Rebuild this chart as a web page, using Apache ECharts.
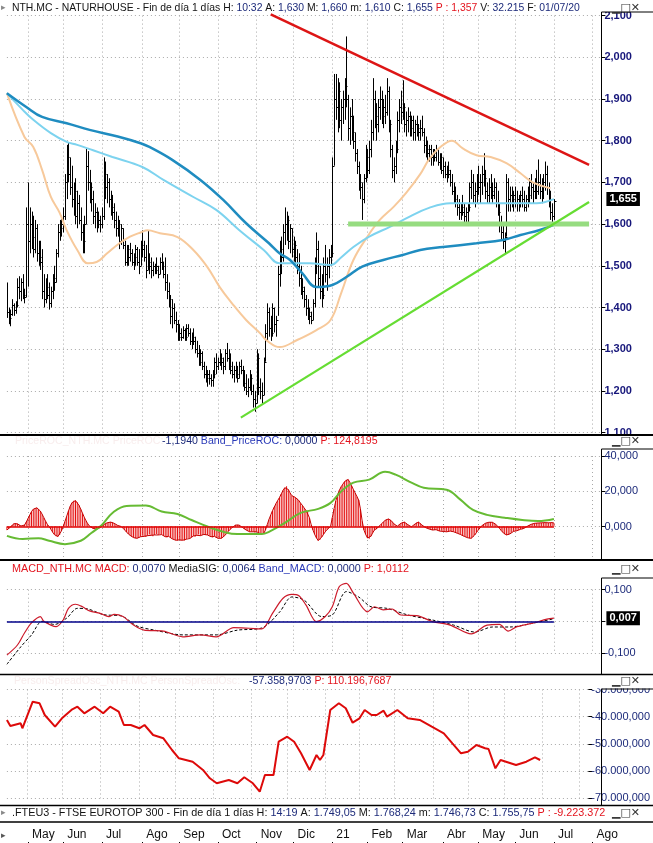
<!DOCTYPE html>
<html><head><meta charset="utf-8">
<script src="https://cdn.jsdelivr.net/npm/echarts/dist/echarts.min.js"></script>
<style>html,body{margin:0;padding:0;background:#fff}#c{width:653px;height:843px}</style>
</head><body><div id="c"></div>
<script>
// ---------- categories ----------
const firstDay = '2020-04-15';
const holidays = ['2020-05-01','2020-12-25','2021-01-01','2021-04-02','2021-04-05'];
const totalSlots = 339;
const monthNames = ['Ene','Feb','Mar','Abr','May','Jun','Jul','Ago','Sep','Oct','Nov','Dic'];

// ---------- price bars ----------
const highs = [1.460,1.400,1.395,1.420,1.410,1.415,1.470,1.475,1.470,1.480,1.445,1.640,1.700,1.640,1.630,1.620,1.610,1.600,1.560,1.560,
1.540,1.480,1.470,1.480,1.460,1.450,1.480,1.500,1.540,1.600,1.610,1.620,1.640,1.720,1.790,1.795,1.760,1.740,1.700,1.710,
1.680,1.670,1.640,1.600,1.620,1.780,1.775,1.730,1.700,1.680,1.650,1.640,1.630,1.620,1.640,1.760,1.750,1.720,1.710,1.680,
1.670,1.650,1.630,1.620,1.610,1.600,1.590,1.560,1.550,1.550,1.555,1.540,1.530,1.550,1.545,1.540,1.560,1.585,1.560,1.550,
1.585,1.530,1.520,1.510,1.505,1.520,1.500,1.520,1.530,1.510,1.520,1.480,1.460,1.430,1.420,1.410,1.390,1.370,1.360,1.350,
1.355,1.350,1.360,1.360,1.350,1.340,1.350,1.330,1.320,1.310,1.300,1.295,1.270,1.260,1.250,1.250,1.240,1.250,1.280,1.290,
1.280,1.300,1.290,1.280,1.300,1.315,1.300,1.290,1.270,1.260,1.270,1.260,1.270,1.275,1.260,1.250,1.240,1.230,1.250,1.240,
1.215,1.200,1.300,1.290,1.230,1.220,1.280,1.360,1.410,1.400,1.380,1.410,1.400,1.380,1.500,1.560,1.570,1.600,1.640,1.630,
1.620,1.600,1.590,1.570,1.560,1.540,1.530,1.500,1.470,1.450,1.430,1.420,1.400,1.390,1.420,1.520,1.580,1.560,1.500,1.480,
1.520,1.550,1.520,1.540,1.550,1.760,1.960,1.960,1.950,1.940,1.900,1.920,1.950,2.050,1.910,1.880,1.900,1.860,1.820,1.780,
1.750,1.720,1.700,1.720,1.790,1.780,1.800,1.850,1.950,1.920,1.890,1.900,1.930,1.920,1.900,1.910,1.950,1.930,1.850,1.790,
1.760,1.800,1.870,1.900,1.920,1.945,1.890,1.870,1.880,1.870,1.860,1.860,1.850,1.860,1.840,1.850,1.860,1.830,1.810,1.800,
1.790,1.790,1.780,1.780,1.790,1.780,1.770,1.770,1.760,1.750,1.740,1.750,1.730,1.720,1.700,1.690,1.670,1.660,1.650,1.670,
1.650,1.640,1.650,1.700,1.730,1.720,1.700,1.720,1.740,1.720,1.740,1.770,1.730,1.700,1.710,1.720,1.700,1.710,1.700,1.680,
1.650,1.620,1.600,1.580,1.720,1.710,1.690,1.690,1.680,1.690,1.680,1.670,1.680,1.690,1.680,1.670,1.690,1.710,1.720,1.700,
1.710,1.730,1.755,1.720,1.710,1.720,1.750,1.740,1.700,1.680,1.650,1.660];
const lows = [1.375,1.360,1.355,1.380,1.380,1.385,1.400,1.420,1.415,1.420,1.410,1.425,1.450,1.530,1.540,1.520,1.530,1.510,1.500,1.490,
1.420,1.400,1.410,1.420,1.395,1.400,1.420,1.440,1.460,1.520,1.560,1.570,1.580,1.610,1.660,1.700,1.670,1.640,1.620,1.600,
1.590,1.600,1.560,1.530,1.530,1.600,1.680,1.650,1.630,1.600,1.590,1.580,1.590,1.580,1.590,1.610,1.660,1.650,1.640,1.620,
1.610,1.590,1.570,1.570,1.540,1.550,1.540,1.500,1.500,1.500,1.510,1.500,1.490,1.500,1.500,1.480,1.500,1.520,1.510,1.470,
1.490,1.480,1.470,1.475,1.480,1.480,1.470,1.480,1.490,1.470,1.440,1.420,1.400,1.360,1.350,1.360,1.340,1.320,1.320,1.320,
1.325,1.320,1.320,1.330,1.310,1.300,1.310,1.290,1.280,1.260,1.260,1.250,1.230,1.220,1.210,1.215,1.210,1.210,1.230,1.240,
1.250,1.260,1.250,1.240,1.250,1.270,1.250,1.240,1.230,1.220,1.230,1.220,1.230,1.240,1.210,1.200,1.190,1.185,1.200,1.190,
1.160,1.150,1.170,1.190,1.180,1.170,1.190,1.270,1.320,1.330,1.320,1.330,1.340,1.330,1.380,1.450,1.480,1.510,1.550,1.560,
1.540,1.530,1.520,1.510,1.500,1.480,1.450,1.430,1.420,1.400,1.380,1.370,1.360,1.360,1.370,1.400,1.480,1.450,1.420,1.400,
1.420,1.460,1.440,1.470,1.500,1.520,1.740,1.850,1.820,1.830,1.800,1.840,1.850,1.880,1.800,1.790,1.800,1.780,1.750,1.720,
1.680,1.660,1.610,1.650,1.700,1.710,1.720,1.760,1.800,1.830,1.800,1.820,1.850,1.840,1.830,1.840,1.860,1.820,1.760,1.710,
1.700,1.720,1.770,1.820,1.840,1.850,1.820,1.810,1.820,1.810,1.810,1.800,1.800,1.810,1.800,1.800,1.810,1.770,1.760,1.750,
1.750,1.740,1.740,1.750,1.750,1.740,1.730,1.720,1.710,1.710,1.700,1.710,1.690,1.670,1.650,1.640,1.620,1.610,1.610,1.620,
1.600,1.600,1.600,1.630,1.660,1.650,1.640,1.650,1.670,1.650,1.670,1.690,1.660,1.650,1.650,1.660,1.650,1.660,1.640,1.620,
1.580,1.560,1.540,1.530,1.570,1.630,1.630,1.640,1.630,1.640,1.630,1.630,1.640,1.640,1.630,1.630,1.640,1.650,1.660,1.650,
1.660,1.660,1.670,1.660,1.650,1.660,1.680,1.670,1.640,1.610,1.600,1.610];
const closes = [1.390,1.375,1.385,1.405,1.395,1.405,1.450,1.440,1.460,1.430,1.425,1.600,1.560,1.600,1.570,1.540,1.590,1.530,1.520,1.510,
1.440,1.420,1.450,1.430,1.410,1.440,1.470,1.460,1.530,1.580,1.590,1.600,1.620,1.700,1.760,1.720,1.690,1.660,1.680,1.620,
1.650,1.610,1.580,1.560,1.600,1.740,1.700,1.690,1.660,1.620,1.630,1.600,1.610,1.600,1.620,1.720,1.690,1.700,1.660,1.640,
1.630,1.610,1.590,1.600,1.560,1.590,1.550,1.510,1.540,1.520,1.530,1.510,1.520,1.540,1.510,1.500,1.550,1.540,1.520,1.490,
1.510,1.500,1.490,1.500,1.490,1.500,1.480,1.510,1.500,1.480,1.460,1.440,1.420,1.380,1.400,1.370,1.360,1.330,1.340,1.330,
1.345,1.330,1.350,1.340,1.320,1.330,1.320,1.300,1.290,1.270,1.290,1.260,1.240,1.230,1.240,1.230,1.225,1.240,1.270,1.260,
1.270,1.280,1.270,1.260,1.290,1.280,1.260,1.250,1.240,1.250,1.240,1.230,1.260,1.250,1.220,1.210,1.200,1.210,1.230,1.200,
1.180,1.170,1.280,1.210,1.200,1.190,1.270,1.340,1.390,1.350,1.340,1.400,1.360,1.370,1.480,1.540,1.520,1.580,1.600,1.610,
1.560,1.590,1.540,1.550,1.520,1.500,1.470,1.450,1.440,1.420,1.400,1.390,1.380,1.370,1.410,1.500,1.540,1.470,1.440,1.430,
1.500,1.480,1.500,1.520,1.530,1.740,1.900,1.880,1.920,1.850,1.880,1.900,1.930,1.900,1.830,1.860,1.820,1.800,1.770,1.740,
1.700,1.690,1.660,1.710,1.760,1.730,1.780,1.820,1.900,1.860,1.840,1.880,1.900,1.860,1.880,1.870,1.920,1.840,1.780,1.730,
1.740,1.780,1.850,1.880,1.870,1.880,1.840,1.850,1.860,1.830,1.850,1.820,1.840,1.830,1.820,1.830,1.820,1.790,1.780,1.770,
1.780,1.760,1.770,1.760,1.780,1.750,1.760,1.730,1.740,1.720,1.730,1.720,1.700,1.680,1.660,1.650,1.640,1.630,1.640,1.630,
1.620,1.630,1.640,1.690,1.700,1.670,1.680,1.700,1.690,1.700,1.720,1.710,1.680,1.670,1.690,1.680,1.670,1.690,1.650,1.630,
1.600,1.580,1.560,1.570,1.700,1.660,1.670,1.660,1.670,1.650,1.660,1.650,1.670,1.660,1.640,1.660,1.670,1.700,1.690,1.680,
1.700,1.680,1.700,1.680,1.690,1.700,1.720,1.690,1.660,1.630,1.620,1.655];

// ---------- moving averages (bar index, value) ----------
const maShort = [[0,1.914],[10,1.809],[15,1.785],[20,1.73],[25,1.665],[30,1.627],[34,1.585],[40,1.538],[46,1.506],[51,1.509],[57,1.53],[64,1.554],[70,1.57],[76,1.58],[80,1.585],[87,1.578],[97,1.569],[106,1.538],[114,1.497],[121,1.449],[128,1.41],[136,1.37],[144,1.338],[148,1.32],[155,1.305],[165,1.322],[176,1.346],[184,1.37],[190,1.434],[197,1.514],[205,1.57],[212,1.61],[220,1.642],[227,1.675],[235,1.72],[240,1.755],[246,1.783],[253,1.80],[259,1.782],[267,1.765],[275,1.761],[284,1.746],[292,1.722],[299,1.70],[309,1.686]];
const maMid = [[0,1.914],[9,1.874],[15,1.85],[25,1.818],[34,1.797],[40,1.79],[49,1.777],[60,1.761],[77,1.737],[89,1.706],[106,1.665],[119,1.634],[132,1.586],[146,1.538],[155,1.506],[161,1.506],[172,1.506],[184,1.502],[190,1.52],[197,1.545],[206,1.57],[218,1.594],[229,1.618],[240,1.639],[252,1.65],[267,1.65],[286,1.65],[301,1.65],[311,1.66]];
const maLong = [[0,1.914],[11,1.881],[20,1.857],[34,1.842],[47,1.826],[63,1.81],[76,1.794],[81,1.785],[94,1.754],[110,1.706],[123,1.658],[136,1.602],[149,1.554],[155,1.53],[161,1.514],[168,1.482],[176,1.449],[185,1.454],[193,1.473],[202,1.498],[214,1.514],[225,1.526],[235,1.538],[248,1.545],[267,1.554],[282,1.562],[292,1.574],[303,1.586],[311,1.598]];
const resistanceLine = [[150,2.103],[331,1.742]];
const supportLine = [[133,1.136],[331,1.653]];
const supportLevel = [[194,1.60],[331,1.60]];
const lastClose = 1.655;

// ---------- PriceROC panel ----------
const rocHist = [-2.0,-1.2,-0.3,0.8,1.6,2.0,1.5,0.8,0.3,0.2,0.8,2.5,4.5,6.5,8.5,9.8,10.5,10.6,10.0,8.8,
7.0,5.0,3.0,1.2,0.0,-1.5,-3.2,-4.6,-5.5,-5.7,-4.8,-2.5,0.0,2.8,5.8,8.8,11.5,13.5,14.6,14.7,
13.8,12.0,9.8,7.5,5.2,3.2,1.5,0.2,-0.6,-1.1,-1.4,-1.5,-1.2,-0.6,0.2,1.0,1.6,2.1,2.4,2.5,
2.3,1.8,1.2,0.6,0.2,0.0,-0.8,-2.0,-3.2,-4.2,-5.0,-5.8,-6.3,-6.6,-6.7,-6.5,-5.8,-5.2,-5.6,-6.0,
-5.2,-4.6,-5.0,-5.5,-4.8,-4.3,-4.8,-4.3,-4.6,-5.2,-5.8,-6.2,-5.6,-6.4,-7.0,-7.4,-7.8,-8.0,-7.6,-8.0,
-7.8,-8.0,-7.2,-6.5,-6.8,-6.0,-5.4,-5.8,-5.0,-4.6,-5.2,-4.8,-4.5,-4.8,-4.8,-5.3,-5.8,-6.2,-5.6,-6.4,
-6.7,-6.5,-6.7,-6.0,-5.0,-3.8,-2.6,-1.5,-0.6,0.2,0.8,1.0,0.8,0.2,-0.6,-1.4,-2.0,-2.6,-3.0,-2.8,
-3.0,-3.4,-3.0,-3.6,-4.0,-3.8,-4.0,-2.0,1.0,4.0,6.5,9.0,11.0,13.0,14.8,16.5,18.5,20.5,22.0,22.9,
21.0,19.0,17.5,17.0,16.5,15.8,14.7,13.2,12.0,10.5,9.2,8.6,5.0,1.0,-2.0,-4.5,-6.5,-8.0,-7.5,-6.0,
-4.5,-3.0,-1.8,-0.8,0.0,5.0,10.0,14.5,18.0,20.5,22.5,24.0,25.5,26.5,26.7,25.0,23.0,21.0,19.0,17.0,
15.0,10.0,3.0,-2.0,-4.5,-6.5,-7.0,-5.5,-3.5,-2.0,-1.5,-0.5,0.5,1.5,2.5,3.5,4.1,4.3,3.8,2.8,
1.5,0.6,0.2,0.8,1.8,2.4,2.5,2.0,1.0,0.3,-0.2,0.4,1.4,2.2,2.5,1.8,0.8,0.0,-0.6,-1.0,
-1.4,-1.8,-2.0,-2.0,-1.8,-2.2,-2.6,-2.4,-2.8,-2.6,-3.0,-2.8,-2.6,-3.0,-3.0,-3.4,-3.8,-4.2,-4.6,-5.2,
-5.6,-6.0,-6.4,-6.7,-6.7,-6.0,-4.8,-3.4,-2.0,-0.8,0.4,1.2,1.8,2.2,2.4,2.5,2.4,2.0,1.2,0.2,
-1.0,-2.2,-3.4,-4.4,-4.8,-4.8,-4.2,-3.4,-2.8,-2.6,-2.4,-2.0,-1.6,-1.5,-1.0,-0.4,0.2,0.8,1.2,1.5,
1.8,2.0,2.0,2.0,2.1,2.0,2.2,2.0,2.1,2.0,2.2,2.0];
const rocLine = [[0,-5.3],[9,-7.1],[18,-6.6],[24,-8.1],[33,-10],[42,-8.1],[48,-3.7],[54,0.9],[60,7.7],[68,11.7],[79,11.9],[88,8.5],[97,7.1],[105,3.7],[114,0],[123,-3],[131,-4.3],[145,-4.3],[149,-3],[158,2],[167,7.7],[177,10],[184,13.4],[190,19.9],[197,24.9],[206,26.6],[215,31],[221,29.4],[230,24.9],[237,22],[250,20.9],[258,15.1],[265,9.4],[273,6.6],[283,5],[293,3.7],[302,3.1],[311,4.3]];

// ---------- MACD panel ----------
const macdLine = [[0,-0.107],[6,-0.075],[10,-0.037],[14,-0.005],[19,0.015],[21,0],[25,-0.012],[28,-0.017],[32,0.004],[35,0.041],[39,0.054],[43,0.046],[47,0.033],[53,0.025],[58,0.015],[61,0.022],[66,0.015],[72,-0.012],[78,-0.028],[89,-0.031],[100,-0.049],[110,-0.043],[119,-0.049],[129,-0.02],[138,-0.022],[145,-0.024],[151,0.025],[157,0.073],[162,0.085],[166,0.081],[170,0.052],[176,-0.001],[181,0.015],[185,0.046],[189,0.11],[193,0.12],[197,0.089],[205,0.03],[209,0.046],[214,0.036],[219,0.039],[224,0.02],[233,0.018],[242,-0.001],[252,-0.012],[264,-0.04],[273,-0.012],[280,-0.01],[285,-0.031],[290,-0.017],[299,-0.006],[307,0.007],[311,0.01]];
const signalLine = [[0,-0.136],[8,-0.08],[14,-0.043],[20,0],[27,-0.01],[34,0.01],[40,0.041],[46,0.039],[55,0.021],[65,0.017],[74,-0.015],[84,-0.028],[100,-0.043],[119,-0.043],[131,-0.028],[145,-0.021],[155,0.029],[162,0.077],[169,0.067],[179,0.015],[185,0.02],[193,0.094],[200,0.077],[207,0.046],[216,0.041],[228,0.02],[242,0.004],[254,-0.012],[266,-0.034],[276,-0.018],[286,-0.018],[299,-0.006],[311,0.008]];
const macdLast = 0.007;

// ---------- bottom oscillator ----------
const spreadLine = [[0,-41210],[2,-43420],[8,-42430],[9,-44260],[15,-34490],[19,-35070],[22,-39380],[28,-43680],[32,-40590],[38,-37280],[41,-36320],[45,-38750],[51,-36320],[56,-38750],[60,-36320],[65,-38160],[68,-43050],[72,-43050],[77,-44260],[80,-43050],[85,-46730],[91,-47940],[96,-52240],[100,-55290],[108,-56540],[114,-59590],[118,-62640],[122,-64480],[129,-63270],[134,-64480],[138,-62280],[143,-64480],[147,-67570],[150,-61430],[155,-61430],[158,-49190],[163,-47350],[167,-49190],[171,-53450],[176,-59590],[180,-54080],[182,-55920],[184,-54080],[188,-37540],[193,-35070],[197,-36910],[201,-42210],[205,-40590],[208,-37540],[212,-39380],[215,-39380],[219,-37790],[221,-40000],[227,-37540],[233,-40590],[240,-41210],[247,-43680],[254,-46100],[259,-49780],[264,-53450],[268,-52870],[273,-50400],[278,-51620],[280,-51870],[284,-58970],[287,-55920],[296,-57760],[302,-56540],[307,-54920],[310,-55920]];

// ---------- build ----------
function buildDays(){
  const out=[]; const d=new Date(firstDay+'T00:00:00Z');
  while(out.length<totalSlots){
    const wd=d.getUTCDay(), s=d.toISOString().slice(0,10);
    if(wd!==0&&wd!==6&&holidays.indexOf(s)<0) out.push(s);
    d.setUTCDate(d.getUTCDate()+1);
  }
  return out;
}
const days = buildDays();
const isMonthStart = i => i>0 && days[i].slice(5,7)!==days[i-1].slice(5,7);
const monthLabel = v => { const m=+v.slice(5,7); return m===1 ? v.slice(2,4) : monthNames[m-1]; };
const fmt3 = v => v.toFixed(3).replace('.', ',');
const fmtBig = v => { const p=Math.abs(v).toFixed(3).split('.'); return (v<0?'-':'')+p[0].replace(/\B(?=(\d{3})+(?!\d))/g,'.')+','+p[1]; };

const FONT='Liberation Sans';
const GRID_LEFT=6.9, GRID_RIGHT=51.6;
const dotted={color:'#a9a9a9',type:[1,3],width:1};
const navy='#1c2a7a';

function xAx(gi, extra){
  return Object.assign({type:'category',gridIndex:gi,data:days,boundaryGap:false,
    axisLine:{show:false},axisTick:{show:false},axisLabel:{show:false},
    splitLine:{show:true,interval:(i)=>isMonthStart(i),lineStyle:dotted}},extra||{});
}
function yAx(gi, o){
  return Object.assign({type:'value',gridIndex:gi,position:'right',
    axisLine:{show:false},
    axisTick:{show:true,length:4,lineStyle:{color:'#000'}},
    splitLine:{show:true,lineStyle:dotted}},o);
}

const chart = echarts.init(document.getElementById('c'),null,{renderer:'canvas'});
const ohlcData = closes.map((c,i)=>[i,highs[i],lows[i],c]);

const boxLabel = (val, txt) => ({silent:true,symbol:['none','none'],lineStyle:{width:0,color:'rgba(0,0,0,0)',type:'solid'},
  label:{show:true,position:'end',distance:5,formatter:txt,backgroundColor:'#000',color:'#fff',
  fontFamily:FONT,fontWeight:'bold',fontSize:11,padding:[2,3,1,3],opacity:1},
  emphasis:{disabled:true},data:[{yAxis:val}]});

const option = {
  animation:false,
  backgroundColor:'#fff',
  grid:[
    {left:GRID_LEFT,right:GRID_RIGHT,top:15.6,height:417},
    {left:GRID_LEFT,right:GRID_RIGHT,top:456,height:105.75},
    {left:GRID_LEFT,right:GRID_RIGHT,top:589.7,height:63.2},
    {left:GRID_LEFT,right:GRID_RIGHT,top:689.5,height:108.8},
    {left:GRID_LEFT,right:GRID_RIGHT,top:826,height:16}
  ],
  xAxis:[
    xAx(0),xAx(1),xAx(2),xAx(3),
    xAx(4,{position:'top',splitLine:{show:false},
      axisTick:{show:true,inside:true,length:16,interval:(i)=>isMonthStart(i),lineStyle:{color:'#000',width:1}},
      axisLabel:{show:true,inside:true,interval:(i)=>isMonthStart(i),formatter:(v)=>monthLabel(v),
        align:'left',verticalAlign:'top',margin:3,padding:[0,0,0,4],color:'#111',fontFamily:FONT,fontSize:12}})
  ],
  yAxis:[
    yAx(0,{min:1.1,max:2.1,interval:0.1,axisLabel:{margin:3,color:'#15157a',fontWeight:'bold',fontSize:11,fontFamily:FONT,formatter:fmt3}}),
    yAx(1,{min:-20,max:40,interval:20,axisLabel:{margin:3,color:navy,fontSize:11,fontFamily:FONT,showMinLabel:false,formatter:fmt3}}),
    yAx(2,{min:-0.1,max:0.1,interval:0.1,axisLabel:{margin:3,color:navy,fontSize:11,fontFamily:FONT,formatter:(v)=>Math.abs(v)<1e-9?'':fmt3(v)}}),
    yAx(3,{min:-70000,max:-30000,interval:10000,axisLabel:{margin:3,color:navy,fontSize:11,fontFamily:FONT,formatter:fmtBig}}),
    {type:'value',gridIndex:4,show:false}
  ],
  series:[
    {type:'custom',xAxisIndex:0,yAxisIndex:0,data:ohlcData,encode:{x:0,y:[1,2,3]},z:3,
      renderItem:function(params,api){
        const i=api.value(0);
        const ph=api.coord([i,api.value(1)]), pl=api.coord([i,api.value(2)]), pc=api.coord([i,api.value(3)]);
        const x=Math.round(ph[0])+0.5;
        return {type:'group',children:[
          {type:'line',shape:{x1:x,y1:ph[1],x2:x,y2:pl[1]},style:{stroke:'#000',lineWidth:1}},
          {type:'line',shape:{x1:x,y1:Math.round(pc[1])+0.5,x2:x+2,y2:Math.round(pc[1])+0.5},style:{stroke:'#000',lineWidth:1}}
        ]};
      }},
    {type:'line',xAxisIndex:0,yAxisIndex:0,data:maShort,smooth:0.4,showSymbol:false,z:4,lineStyle:{color:'#f7c99b',width:2}},
    {type:'line',xAxisIndex:0,yAxisIndex:0,data:maMid,smooth:0.4,showSymbol:false,z:4,lineStyle:{color:'#7dd3ef',width:2}},
    {type:'line',xAxisIndex:0,yAxisIndex:0,data:maLong,smooth:0.4,showSymbol:false,z:4,lineStyle:{color:'#1f8cc0',width:2.5}},
    {type:'scatter',xAxisIndex:0,yAxisIndex:0,data:[],symbolSize:0,z:10,markLine:boxLabel(lastClose,fmt3(lastClose))},
    {type:'line',xAxisIndex:0,yAxisIndex:0,data:resistanceLine,showSymbol:false,clip:false,z:5,lineStyle:{color:'#dd1515',width:2.5}},
    {type:'line',xAxisIndex:0,yAxisIndex:0,data:supportLine,showSymbol:false,z:5,lineStyle:{color:'#66dd33',width:2.2}},
    {type:'line',xAxisIndex:0,yAxisIndex:0,data:supportLevel,showSymbol:false,z:4,lineStyle:{color:'#96dc80',width:5}},

    {type:'bar',xAxisIndex:1,yAxisIndex:1,data:rocHist,barWidth:1,itemStyle:{color:'#e41010'},z:3,
      markLine:{silent:true,symbol:['none','none'],label:{show:false},lineStyle:{color:'#e00000',width:1.5,type:'solid'},
        data:[[{coord:[0,0]},{coord:[311,0]}]]}},
    {type:'line',xAxisIndex:1,yAxisIndex:1,data:rocHist,showSymbol:false,z:3,lineStyle:{color:'#c40000',width:1}},
    {type:'line',xAxisIndex:1,yAxisIndex:1,data:rocLine,smooth:0.4,showSymbol:false,z:4,lineStyle:{color:'#66bb33',width:2}},

    {type:'line',xAxisIndex:2,yAxisIndex:2,data:signalLine,smooth:0.3,showSymbol:false,clip:false,z:3,
      lineStyle:{color:'#000',width:1,type:[3,2]}},
    {type:'scatter',xAxisIndex:2,yAxisIndex:2,data:[],symbolSize:0,z:10,markLine:boxLabel(macdLast,fmt3(macdLast))},
    {type:'line',xAxisIndex:2,yAxisIndex:2,data:macdLine,smooth:0.3,showSymbol:false,clip:false,z:4,
      lineStyle:{color:'#cc1a2a',width:1.2},
      markLine:{silent:true,symbol:['none','none'],label:{show:false},lineStyle:{color:'#000088',width:1.5,type:'solid'},
        data:[[{coord:[0,0]},{coord:[311,0]}]]}},

    {type:'line',xAxisIndex:3,yAxisIndex:3,data:spreadLine,showSymbol:false,z:3,lineStyle:{color:'#dd0a0a',width:2}}
  ],
  graphic:{elements:[]}
};

// frame / headers
const G=option.graphic.elements;
const mask=(y,h)=>G.push({type:'rect',z:100,silent:true,shape:{x:0,y:y,width:653,height:h},style:{fill:'#fff'}});
const hline=(y,w)=>G.push({type:'line',z:102,silent:true,shape:{x1:0,y1:y,x2:653,y2:y},style:{stroke:'#000',lineWidth:w||2}});
const box=(y1,y2)=>G.push({type:'rect',z:102,silent:true,shape:{x:601.5,y:y1,width:60,height:y2-y1},style:{fill:'none',stroke:'#000',lineWidth:1}});
const mkR=(fs)=>{const mk=(c)=>({fill:c,fontFamily:FONT,fontSize:fs});
  return {k:mk('#141414'),v:mk(navy),r:mk('#e3141e'),b:mk('#2a3ab8'),f:mk('#f8eded')};};
const txt=(x,y,text,fs)=>G.push({type:'text',z:103,silent:true,x:x,y:y,
  style:{text:text,rich:mkR(fs),font:fs+'px "'+FONT+'"',fill:'#111',verticalAlign:'middle'}});
const arrow=(y,c)=>G.push({type:'text',z:103,silent:true,x:1,y:y,style:{text:'▸',font:'9px "DejaVu Sans"',fill:c,verticalAlign:'middle'}});

mask(0,12); mask(436,13); mask(561,16); mask(675,13.5); mask(806,15);
hline(435,2); hline(560,2); hline(674.5,1.5); hline(805.5,1.5); hline(822,1.5);
box(12,435); box(449,560); box(578,674.5); box(689,805.5);

arrow(8,'#888'); arrow(813,'#888'); arrow(836,'#555');
txt(12,8,'{k|NTH.MC - NATURHOUSE - Fin de día 1 días H: }{v|10:32}{k| A: }{v|1,630}{k| M: }{v|1,660}{k| m: }{v|1,610}{k| C: }{v|1,655}{r| P : 1,357}{k| V: }{v|32.215}{k| F: }{v|01/07/20}',10.4);
txt(15,441,'{f|PriceROC_NTH.MC PriceROC:}',10.6);
txt(162,441,'{v|-1,1940}{b| Band_PriceROC: }{v|0,0000}{r| P: 124,8195}',10.6);
txt(12,569,'{r|MACD_NTH.MC MACD: }{v|0,0070}{k| MediaSIG: }{v|0,0064}{b| Band_MACD: }{v|0,0000}{r| P: 1,0112}',10.8);
txt(14,681,'{f|PersonSpreadOsc_NTH.MC PersonSpreadOsc:}',10.6);
txt(249,681,'{v|-57.358,9703}{r| P: 110.196,7687}',10.6);
txt(12,813,'{k|.FTEU3 - FTSE EUROTOP 300 - Fin de día 1 días H: }{v|14:19}{k| A: }{v|1.749,05}{k| M: }{v|1.768,24}{k| m: }{v|1.746,73}{k| C: }{v|1.755,75}{r| P : -9.223.372}',10.8);
[8,441,569,681,813].forEach(y=>{
  G.push({type:'text',z:103,silent:true,x:612,y:y,style:{text:'▁□✕',font:'bold 11px "DejaVu Sans"',fill:'#333',verticalAlign:'middle'}});
});

chart.setOption(option);
</script></body></html>
